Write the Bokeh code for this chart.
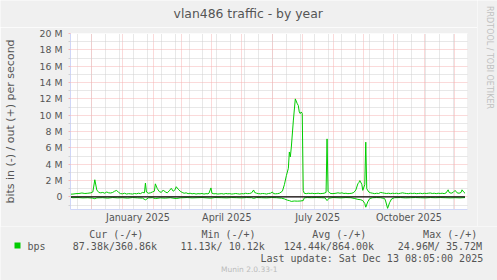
import math
import pandas as pd
from bokeh.plotting import figure
from bokeh.layouts import row, column
from bokeh.models import FixedTicker, Label, DatetimeTickFormatter, Range1d
from bokeh.embed import file_html
from bokeh.resources import INLINE

# ---------------- data ----------------
start = "2024-11-09"
title = "vlan486 traffic - by year"
ylabel = "bits in (-) / out (+) per second"

# out (+) traffic, M bit/s, day offsets from start
out_day = [0, 3, 6, 9, 12, 15, 18, 21, 23, 25, 27, 29, 31, 33, 35, 37, 39, 41, 43, 45,
           47, 49, 51, 53, 55, 57, 59, 61, 63, 65, 67, 69, 71, 73, 75, 76, 77, 79, 81, 83,
           85, 86, 88, 90, 92, 94, 96, 98, 100, 102, 104, 106, 107, 109, 111, 113, 115, 117, 119, 121,
           123, 125, 127, 129, 131, 133, 135, 137, 139, 140, 142, 143, 145, 147, 149, 151, 153, 155, 157, 159,
           161, 163, 165, 167, 169, 171, 173, 175, 177, 179, 181, 183, 185, 186, 188, 190, 192, 194, 196, 198,
           200, 202, 204, 205, 207, 209, 211, 214, 216, 218, 220, 221, 222, 223, 225, 227, 229, 230, 231, 232,
           233, 234, 235, 236, 238, 240, 242, 244, 246, 248, 250, 252, 254, 256, 258, 259, 260, 262, 264, 266,
           268, 270, 272, 274, 276, 278, 280, 282, 284, 286, 288, 290, 291, 292, 294, 295, 297, 298, 299, 301,
           303, 305, 307, 309, 311, 313, 315, 317, 319, 321, 323, 325, 327, 329, 331, 333, 335, 337, 339, 341,
           343, 345, 347, 349, 351, 353, 355, 357, 359, 361, 363, 365, 367, 369, 371, 373, 375, 377, 379, 381,
           382, 384, 386, 388, 390, 392, 394, 395, 397, 398]
out_mbps = [0.33, 0.35, 0.40, 0.42, 0.48, 0.42, 0.45, 0.50, 0.60, 2.10, 0.85, 0.55, 0.50, 0.55, 0.45, 0.60, 0.50, 0.48, 0.55, 0.70,
            0.80, 0.55, 0.40, 0.38, 0.45, 0.35, 0.40, 0.38, 0.35, 0.42, 0.38, 0.45, 0.40, 0.55, 0.50, 1.70, 0.60, 0.45, 0.50, 0.60,
            0.70, 1.60, 1.00, 0.65, 0.55, 0.85, 0.60, 0.50, 0.75, 1.05, 0.70, 0.90, 1.25, 0.95, 0.70, 0.55, 0.45, 0.50, 0.40, 0.45,
            0.38, 0.42, 0.35, 0.40, 0.38, 0.42, 0.35, 0.40, 0.38, 0.45, 1.10, 0.45, 0.38, 0.40, 0.35, 0.38, 0.40, 0.35, 0.42, 0.38,
            0.40, 0.35, 0.38, 0.42, 0.38, 0.35, 0.40, 0.38, 0.45, 0.40, 0.42, 0.50, 0.85, 0.55, 0.45, 0.40, 0.38, 0.42, 0.40, 0.35,
            0.42, 0.45, 0.60, 0.40, 0.38, 0.40, 0.45, 0.70, 1.50, 2.60, 3.50, 5.50, 4.90, 6.10, 9.30, 12.0, 11.4, 11.2, 10.4, 10.2,
            10.4, 10.2, 0.80, 0.45, 0.40, 0.45, 0.42, 0.45, 0.40, 0.42, 0.45, 0.40, 0.42, 0.45, 0.55, 7.10, 0.70, 0.45, 0.40, 0.42,
            0.45, 0.50, 0.45, 0.50, 0.42, 0.45, 0.40, 0.42, 0.45, 0.55, 0.85, 1.60, 1.75, 2.00, 1.55, 0.80, 1.50, 6.70, 1.00, 0.60,
            0.50, 0.45, 0.40, 0.45, 0.42, 0.55, 0.50, 0.45, 0.42, 0.45, 0.40, 0.45, 0.42, 0.45, 0.40, 0.45, 0.50, 0.45, 0.42, 0.40,
            0.45, 0.42, 0.45, 0.40, 0.42, 0.45, 0.40, 0.45, 0.42, 0.45, 0.48, 0.42, 0.45, 0.40, 0.45, 0.42, 0.45, 0.40, 0.50, 0.87,
            0.55, 0.45, 0.55, 0.80, 0.50, 0.45, 0.55, 0.87, 0.55, 0.45]

# in (-) traffic, M bit/s (plotted negative)
in_day = [0, 3, 8, 13, 18, 23, 25, 27, 33, 38, 43, 48, 53, 58, 63, 68, 73, 76, 79, 83,
          86, 91, 96, 101, 107, 111, 118, 123, 128, 133, 138, 142, 146, 153, 158, 163, 168, 173, 178, 183,
          185, 188, 193, 198, 203, 208, 213, 216, 219, 221, 223, 226, 229, 232, 235, 236, 239, 243, 248, 253,
          257, 259, 261, 265, 269, 273, 278, 283, 287, 290, 293, 295, 297, 298, 300, 302, 305, 309, 313, 317,
          318, 320, 322, 324, 327, 333, 338, 343, 348, 353, 358, 363, 368, 373, 378, 383, 388, 393, 398]
in_mbps = [0.05, 0.10, 0.08, 0.12, 0.10, 0.15, 0.22, 0.12, 0.10, 0.15, 0.08, 0.12, 0.10, 0.15, 0.08, 0.12, 0.15, 0.36, 0.12, 0.10,
           0.20, 0.12, 0.15, 0.10, 0.20, 0.12, 0.08, 0.12, 0.10, 0.08, 0.12, 0.15, 0.08, 0.10, 0.12, 0.08, 0.10, 0.12, 0.08, 0.10,
           0.18, 0.08, 0.10, 0.12, 0.08, 0.10, 0.15, 0.24, 0.40, 0.45, 0.55, 0.50, 0.52, 0.50, 0.45, 0.12, 0.08, 0.10, 0.08, 0.10,
           0.12, 0.45, 0.15, 0.08, 0.10, 0.12, 0.08, 0.10, 0.20, 0.30, 0.35, 0.45, 0.80, 1.26, 0.60, 0.20, 0.10, 0.08, 0.10, 0.20,
           0.50, 1.40, 0.70, 0.25, 0.10, 0.08, 0.12, 0.10, 0.08, 0.10, 0.12, 0.08, 0.10, 0.08, 0.10, 0.12, 0.10, 0.12, 0.08]

y_major = [0, 2, 4, 6, 8, 10, 12, 14, 16, 18, 20]
y_minor = [-1, 1, 3, 5, 7, 9, 11, 13, 15, 17, 19]
y_labels = ["0", "2 M", "4 M", "6 M", "8 M", "10 M", "12 M", "14 M", "16 M", "18 M", "20 M"]
label_months = ["2025-01", "2025-04", "2025-07", "2025-10"]

legend_name = "bps"
col_heads = ["Cur (-/+)", "Min (-/+)", "Avg (-/+)", "Max (-/+)"]
col_values = ["87.38k/360.86k", "11.13k/ 10.12k", "124.44k/864.00k", "24.96M/ 35.72M"]
last_update = "Last update: Sat Dec 13 08:05:00 2025"
footer = "Munin 2.0.33-1"
side_text = "RRDTOOL / TOBI OETIKER"

# ---------------- build ----------------
t0 = pd.Timestamp(start)
out_t = t0 + pd.to_timedelta(out_day, unit="D")
in_t = t0 + pd.to_timedelta(in_day, unit="D")
in_neg = [-v for v in in_mbps]

def ms(ts):
    return ts.value / 1e6

x_lo = pd.Timestamp("2024-11-09 12:00")
x_hi = pd.Timestamp("2025-12-14 12:00")

month_starts = pd.date_range("2024-12-01", "2025-12-01", freq="MS")
biweekly = pd.date_range("2024-11-17", "2025-12-14", freq="14D")
label_ticks = []
for m in label_months:
    a = pd.Timestamp(m + "-01")
    b = a + pd.offsets.MonthBegin(1)
    label_ticks.append(ms(a + (b - a) / 2))

BG = "#F0F0F0"
AX = "#CFD6F8"
TXT = "#555555"
RED = "#F7B4B4"
GRY = "#D0D0D0"
GREEN = "#00CC00"
MONO = "DejaVu Sans Mono"

W = 497
LEFT_W, SIDE_W = 477, 20
TOP_H, MAIN_H, LEG_H = 27, 199, 54

p = figure(width=LEFT_W, height=MAIN_H, output_backend="svg", toolbar_location=None,
           title=None, x_axis_type="datetime",
           x_range=Range1d(x_lo, x_hi), y_range=Range1d(-1.54, 20.0),
           min_border_left=67, min_border_right=10, min_border_top=6, min_border_bottom=17)
p.background_fill_color = "white"
p.border_fill_color = BG
p.outline_line_color = None

# grids
p.xgrid.ticker = FixedTicker(ticks=[ms(t) for t in month_starts], minor_ticks=[ms(t) for t in biweekly])
p.xgrid.grid_line_color = RED
p.xgrid.grid_line_dash = "1 1"
p.xgrid.minor_grid_line_color = GRY
p.xgrid.minor_grid_line_dash = "1 1"
p.ygrid.ticker = FixedTicker(ticks=y_major, minor_ticks=y_minor)
p.ygrid.grid_line_color = RED
p.ygrid.grid_line_dash = "1 1"
p.ygrid.minor_grid_line_color = GRY
p.ygrid.minor_grid_line_dash = "1 1"

# axes
xa = p.xaxis[0]
xa.ticker = FixedTicker(ticks=label_ticks)
fmt = "%B %Y"
xa.formatter = DatetimeTickFormatter(microseconds=fmt, milliseconds=fmt, seconds=fmt, minsec=fmt,
                                     minutes=fmt, hourmin=fmt, hours=fmt, days=fmt, months=fmt, years=fmt)
xa.major_tick_out = 0
xa.major_tick_in = 0
xa.minor_tick_out = 0
xa.minor_tick_in = 0
xa.major_label_standoff = 2
xa.axis_line_color = AX
xa.major_label_text_font = "DejaVu Sans"
xa.major_label_text_font_size = "9.6px"
xa.major_label_text_color = TXT

ya = p.yaxis[0]
ya.ticker = FixedTicker(ticks=y_major, minor_ticks=y_minor)
ya.major_label_overrides = {v: s for v, s in zip(y_major, y_labels)}
ya.major_tick_out = 2
ya.major_tick_in = 0
ya.minor_tick_out = 2
ya.minor_tick_in = 0
ya.major_tick_line_color = RED
ya.minor_tick_line_color = GRY
ya.major_label_standoff = 6
ya.axis_line_color = AX
ya.major_label_text_font = "DejaVu Sans"
ya.major_label_text_font_size = "9.4px"
ya.major_label_text_color = TXT
ya.axis_label = ylabel
ya.axis_label_text_font = "DejaVu Sans"
ya.axis_label_text_font_size = "11px"
ya.axis_label_text_font_style = "normal"
ya.axis_label_text_color = TXT
ya.axis_label_standoff = 20

# series
p.line(in_t, in_neg, line_color=GREEN, line_width=1)
p.line([out_t[0], out_t[-1]], [0, 0], line_color="black", line_width=1.4)
p.line(out_t, out_mbps, line_color=GREEN, line_width=1)


def text_fig(w, h):
    f = figure(width=w, height=h, output_backend="svg", toolbar_location=None, title=None,
               x_range=Range1d(0, w), y_range=Range1d(h, 0),
               x_axis_location=None, y_axis_location=None,
               min_border=0, min_border_left=0, min_border_right=0, min_border_top=0, min_border_bottom=0)
    f.grid.visible = False
    f.outline_line_color = None
    f.background_fill_color = BG
    f.border_fill_color = BG
    return f


def lab(f, x, y, text, size, font="DejaVu Sans", color=TXT, align="left", angle=0.0):
    f.add_layout(Label(x=x, y=y, x_units="canvas", y_units="canvas", text=text,
                       text_font=font, text_font_size=size, text_color=color,
                       text_align=align, text_baseline="middle", angle=angle))


top = text_fig(LEFT_W, TOP_H)
lab(top, 247.7, 13, title, "12.4px", align="center")

leg = text_fig(W, LEG_H)
Y0 = TOP_H + MAIN_H
head_x = [115.8, 228, 338.8, 449.7]
for hx, h in zip(head_x, col_heads):
    lab(leg, hx, 233.5 - Y0, h, "10px", font=MONO, align="center")
val_x = [72.3, 180, 283.3, 397.3]
for vx, v in zip(val_x, col_values):
    lab(leg, vx, 245.5 - Y0, v, "10px", font=MONO)
lab(leg, 27, 245.5 - Y0, legend_name, "10px", font=MONO)
leg.quad(left=[14], right=[20], top=[242 - Y0], bottom=[248 - Y0], fill_color=GREEN, line_color=None)
lab(leg, 482.7, 257.5 - Y0, last_update, "10px", font=MONO, align="right")
lab(leg, 248.7, 268.5 - Y0, footer, "7.5px", color="#BBBBBB", align="center")

side = text_fig(SIDE_W, TOP_H + MAIN_H)
lab(side, 488.5 - LEFT_W, 57, side_text, "8px", color="#C0C0C0", align="center", angle=-math.pi / 2)

left_col = column(row(top, spacing=0), p, spacing=0)
layout = column(row(left_col, column(side, spacing=0), spacing=0), row(leg, spacing=0), spacing=0)
open("out.html", "w").write(file_html(layout, INLINE))
